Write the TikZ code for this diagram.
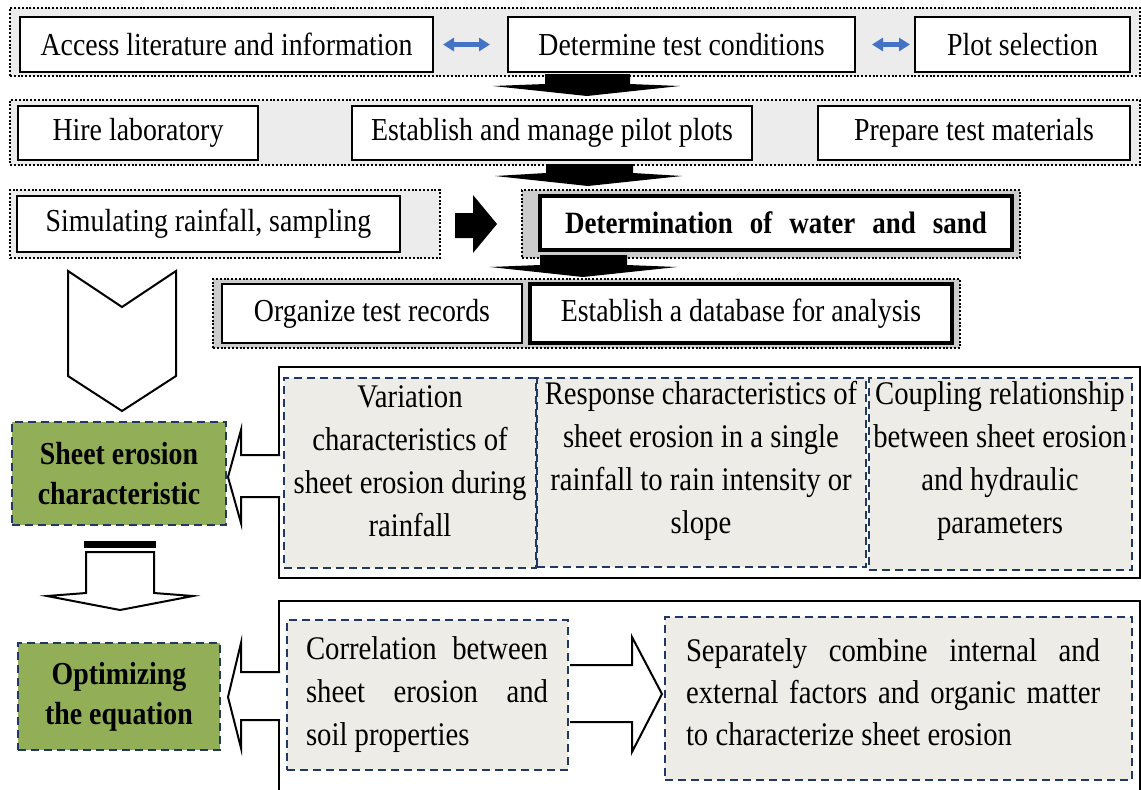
\documentclass[tikz,border=0pt]{standalone}
\usepackage{fontspec}
\setmainfont{Liberation Serif}[FakeStretch=0.87]
\usetikzlibrary{arrows.meta}
\definecolor{navy}{RGB}{31,56,100}
\definecolor{leaf}{RGB}{146,174,86}
\definecolor{beige}{RGB}{238,236,230}
\definecolor{rowgray}{RGB}{236,236,236}
\definecolor{blu}{RGB}{68,114,196}
\newcommand{\rbox}[7]{\node[#1, minimum width={(#4)-(#2)}, minimum height={(#5)-(#3)}] (#6) at ({((#2)+(#4))/2},{((#3)+(#5))/2}) {#7};}
\begin{document}
\begin{tikzpicture}[x=1pt,y=-1pt,
  every node/.style={inner sep=0pt, outer sep=0pt},
  f28/.style={font=\fontsize{32}{38}\selectfont},
  plainbox/.style={draw=black, line width=2.2pt, fill=white, f28},
  heavybox/.style={draw=black, line width=3.8pt, fill=white, f28},
  dotbox/.style={draw=black, line width=2pt, dash pattern=on 2pt off 1.8pt, fill=#1},
  dashbox/.style={draw=navy, line width=2pt, dash pattern=on 8pt off 5pt, fill=beige},
  greenbox/.style={draw=navy, line width=2pt, dash pattern=on 8pt off 5pt, fill=leaf, font=\bfseries\fontsize{32}{40}\selectfont, align=center},
  bigbox/.style={draw=black, line width=2.4pt},
  bodytext/.style={font=\fontsize{33}{43}\selectfont, align=center},
  bluearr/.style={draw=blu, line width=4.5pt, {Triangle[width=13pt,length=11pt]}-{Triangle[width=13pt,length=11pt]}},
  blockarrow/.style={fill=black},
  whitearrow/.style={draw=black, line width=2pt, fill=white, line join=miter}
]
\useasboundingbox (0,0) rectangle (1141,790);
\clip (0,0) rectangle (1141,790);

% Row 1
\rbox{dotbox=rowgray}{10}{8}{1140}{76}{r1}{}
\rbox{plainbox}{20}{17}{433}{72}{a1}{Access literature and information}
\rbox{plainbox}{508}{17}{855}{72}{a2}{Determine test conditions}
\rbox{plainbox}{915}{17}{1130}{72}{a3}{Plot selection}
\draw[bluearr, shorten <=10pt, shorten >=18pt] (a1) -- (a2);
\draw[bluearr, shorten <=17pt, shorten >=5pt] (a2) -- (a3);

% arrow 1
\fill[blockarrow] (545,74) -- (630,74) -- (630,84) -- (680,86) -- (587,96) -- (493,86) -- (545,84) -- cycle;

% Row 2
\rbox{dotbox=rowgray}{10}{100}{1140}{165}{r2}{}
\rbox{plainbox}{18}{106}{258}{160}{b1}{Hire laboratory}
\rbox{plainbox}{352}{106}{752}{160}{b2}{Establish and manage pilot plots}
\rbox{plainbox}{818}{106}{1130}{160}{b3}{Prepare test materials}

% arrow 2
\fill[blockarrow] (546,164) -- (633,164) -- (633,173) -- (682,176) -- (588,186) -- (495,176) -- (546,173) -- cycle;

% Row 3
\rbox{dotbox=rowgray}{10}{190}{440}{258}{c1o}{}
\rbox{plainbox}{17}{196}{400}{252}{c1}{Simulating rainfall, sampling}
\rbox{dotbox=gray!40}{522}{190}{1020}{258}{c2o}{}
\rbox{heavybox}{540}{196}{1012}{250}{c2}{\fontsize{31}{36}\selectfont\bfseries Determination\hspace{0.55em}of\hspace{0.55em}water\hspace{0.55em}and\hspace{0.55em}sand}
\fill[blockarrow] (455,213) -- (473,213) -- (473,195) -- (497,224) -- (473,253) -- (473,238) -- (455,238) -- cycle;

% arrow 3
\fill[blockarrow] (540,255) -- (627,255) -- (627,265) -- (677,267) -- (583,277) -- (490,267) -- (540,265) -- cycle;

% Row 4
\rbox{dotbox=gray!40}{213}{279}{960}{348}{r4}{}
\rbox{plainbox}{222}{284}{522}{343}{d1}{Organize test records}
\rbox{heavybox}{530}{284}{952}{343}{d2}{Establish a database for analysis}

% left chevron
\draw[whitearrow] (68,271) -- (122,307) -- (176,271) -- (176,376) -- (122,411) -- (68,376) -- cycle;

% sheet erosion block
\rbox{bigbox}{279}{367}{1140}{578}{bb1}{}
\rbox{dashbox}{284}{378}{536}{568}{e1}{}
\rbox{dashbox}{537}{378}{866}{567}{e2}{}
\rbox{dashbox}{869}{378}{1132}{570}{e3}{}
\node[bodytext] (e1t) at (410,461) {Variation\\characteristics of\\sheet erosion during\\rainfall};
\node[bodytext] (e2t) at (701,461) {Response characteristics of\\sheet erosion in a single\\rainfall to rain intensity or\\slope};
\node[bodytext] (e3t) at (1000,461) {Coupling relationship\\between sheet erosion\\and hydraulic\\parameters};

\rbox{greenbox}{12}{422}{226}{525}{g1}{Sheet erosion\\characteristic}
\draw[whitearrow] (280,455) -- (241,455) -- (241,430) -- (228,477) -- (241,523) -- (241,497) -- (280,497);

% down arrow
\fill[black] (84,541) rectangle (156,548);
\draw[whitearrow] (86,552) -- (154,552) -- (154,593) -- (193,596) -- (120,610) -- (47,596) -- (86,593) -- cycle;

% equation block
\rbox{bigbox}{279}{601}{1140}{830}{bb2}{}
\rbox{dashbox}{287}{620}{568}{770}{f1}{}
\rbox{dashbox}{665}{617}{1132}{780}{f2}{}
\node[font=\fontsize{33}{43}\selectfont, align=left, anchor=west] (f1t) at (306,695) {\makebox[242pt][s]{Correlation between}\\\makebox[242pt][s]{sheet erosion and}\\soil properties};
\node[font=\fontsize{33}{42}\selectfont, align=left, anchor=west] (f2t) at (686,692) {\makebox[414pt][s]{Separately combine internal and}\\\makebox[414pt][s]{external factors and organic matter}\\to characterize sheet erosion};
\draw[whitearrow] (570,665) -- (632,665) -- (632,637) -- (662,694) -- (632,752) -- (632,722) -- (570,722);

\rbox{greenbox}{18}{643}{220}{750}{g2}{Optimizing\\the equation}
\draw[whitearrow] (280,672) -- (241,672) -- (241,643) -- (228,697) -- (241,748) -- (241,720) -- (280,720);
\end{tikzpicture}
\end{document}
